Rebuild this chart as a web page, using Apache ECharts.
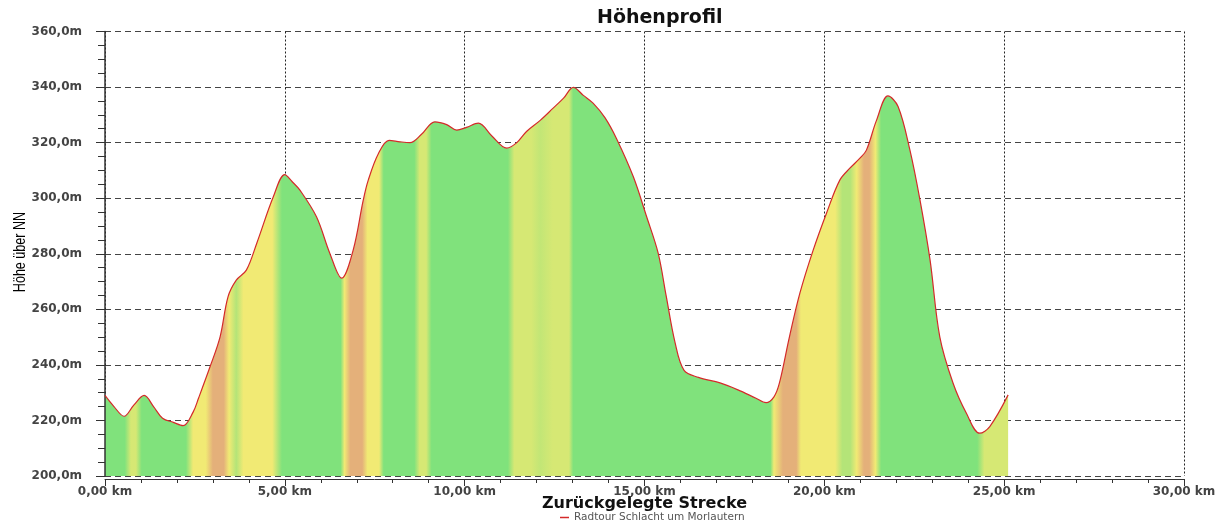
<!DOCTYPE html>
<html>
<head>
<meta charset="utf-8">
<script src="https://cdn.jsdelivr.net/npm/echarts@6/dist/echarts.min.js"></script>
<style>
  html, body { margin: 0; padding: 0; background: #fff; }
  #chart { width: 1220px; height: 522px; }
</style>
</head>
<body>
<div id="chart"></div>
<script>
// Streckenprofil: Distanz (km) und Hoehe (m)
var distKm = [0.00, 0.25, 0.53, 0.80, 1.09, 1.35, 1.60, 1.90, 2.17, 2.45, 2.60, 2.92, 3.20, 3.42, 3.65, 3.93,
    4.22, 4.68, 5.00, 5.20, 5.42, 5.88, 6.25, 6.58, 6.90, 7.18, 7.32, 7.60, 7.90, 8.20, 8.48, 8.80, 9.17,
    9.50, 9.78, 10.05, 10.38, 10.75, 11.17, 11.45, 11.72, 12.10, 12.46, 12.75, 13.02, 13.30, 13.57, 13.90,
    14.22, 14.69, 15.06, 15.38, 15.60, 15.85, 16.10, 16.50, 17.10, 17.60, 18.10, 18.38, 18.60, 18.75, 19.03,
    19.32, 19.69, 20.06, 20.43, 20.71, 20.99, 21.17, 21.45, 21.77, 22.05, 22.38, 22.66, 22.94, 23.21, 23.58,
    23.95, 24.32, 24.60, 25.11];
var hoehe = [229, 225, 221.5, 225.5, 229, 225, 220.8, 219.3, 218.1, 223, 228, 239.3, 250.1, 264.5, 270.5, 274.1,
    283.8, 300.5, 308.5, 306, 302.9, 293.3, 280.2, 271.2, 281.3, 299.3, 306.5, 316, 320.8, 320.3, 320, 323, 327.5,
    326.5, 324.5, 325.5, 327, 322.5, 318, 320, 324, 328, 332.4, 336, 339.9, 337, 334.2, 329,
    321.5, 307.7, 293.3, 280.2, 265, 248, 238, 235.5, 233.5, 231, 228, 226.4, 228.5, 233.4, 250.1,
    265.8, 281.3, 294.6, 306.5, 310.8, 314.4, 317.3, 328, 336.8, 333, 317.3, 299.3, 277.7, 250.1, 233.4,
    222.6, 215.4, 217.8, 229.2];

// Steigungsfarben entlang der Strecke
var bandKm = [0, 0.55, 0.72, 0.86, 1.02,
    2.25, 2.45, 2.8, 3.0, 3.3, 3.45, 3.65, 3.85, 4.65, 4.92,
    6.55, 6.66, 6.82, 7.15, 7.3, 7.62, 7.75,
    8.6, 8.75, 8.93, 9.08,
    11.2, 11.38, 11.85, 12.1, 12.45, 12.9, 13.02,
    18.5, 18.6, 18.85, 19.22, 19.35, 20.3, 20.5, 20.72, 20.9, 21.1, 21.25, 21.42, 21.58,
    24.25, 24.45, 25.11];
var bandColor = ['g', 'g', 'ly', 'ly', 'g',
    'g', 'y', 'y', 'o', 'o', 'y', 'lg', 'y', 'y', 'g',
    'g', 'y', 'o', 'o', 'y', 'y', 'g',
    'g', 'ly', 'ly', 'g',
    'g', 'ly', 'ly', 'yg', 'ly', 'ly', 'g',
    'g', 'y', 'o', 'o', 'y', 'y', 'lg', 'lg', 'y', 'o', 'o', 'y', 'g',
    'g', 'ly', 'ly'];

var xTicks = [0, 5, 10, 15, 20, 25, 30];
var yTicks = [200, 220, 240, 260, 280, 300, 320, 340, 360];

var farben = {
    g: '#80e27c',
    y: '#f1ea74',
    o: '#e4b07a',
    ly: '#d6e874',
    yg: '#c2e676',
    lg: '#b4e478'
};

var punkte = [];
for (var i = 0; i < distKm.length; i++) {
    punkte.push([distKm[i], hoehe[i]]);
}

var ende = distKm[distKm.length - 1];
var stops = [];
for (var j = 0; j < bandKm.length; j++) {
    stops.push({ offset: bandKm[j] / ende, color: farben[bandColor[j]] });
}

var labelStyle = {
    fontFamily: 'DejaVu Sans',
    fontSize: 12,
    fontWeight: 'bold',
    color: '#444'
};

var myChart = echarts.init(document.getElementById('chart'));

var option = {
    animation: false,
    title: {
        text: 'Höhenprofil',
        left: 592,
        top: 4,
        textStyle: {
            fontFamily: 'DejaVu Sans',
            fontSize: 19,
            fontWeight: 'bold',
            color: '#111'
        }
    },
    legend: {
        top: 512,
        left: 560,
        padding: 0,
        icon: 'rect',
        itemWidth: 9,
        itemHeight: 1.5,
        itemGap: 4,
        textStyle: {
            fontFamily: 'DejaVu Sans',
            fontSize: 10.5,
            color: '#555'
        },
        data: ['Radtour Schlacht um Morlautern']
    },
    graphic: [{
        type: 'text',
        x: 20,
        y: 252,
        rotation: Math.PI / 2,
        scaleX: 0.74,
        style: {
            text: 'Höhe über NN',
            fontFamily: 'Liberation Sans',
            fontSize: 17,
            fill: '#000',
            align: 'center',
            verticalAlign: 'middle'
        }
    }],
    grid: {
        left: 105,
        right: 36,
        top: 31.5,
        bottom: 46
    },
    xAxis: {
        type: 'value',
        min: xTicks[0],
        max: xTicks[xTicks.length - 1],
        interval: 5,
        offset: 3,
        z: 3,
        name: 'Zurückgelegte Strecke',
        nameLocation: 'middle',
        nameMoveOverlap: false,
        nameGap: 17,
        nameTextStyle: {
            fontFamily: 'DejaVu Sans',
            fontSize: 16,
            fontWeight: 'bold',
            color: '#111'
        },
        axisLine: { lineStyle: { color: '#333', width: 1 } },
        axisTick: { length: 7, lineStyle: { color: '#333' } },
        minorTick: { show: true, splitNumber: 5, length: 4, lineStyle: { color: '#333' } },
        axisLabel: Object.assign({
            margin: 7,
            formatter: function (v) {
                return v.toFixed(2).replace('.', ',') + ' km';
            }
        }, labelStyle),
        splitLine: {
            show: true,
            lineStyle: { color: '#222', type: [2, 2], width: 1 }
        }
    },
    yAxis: {
        type: 'value',
        min: yTicks[0],
        max: yTicks[yTicks.length - 1],
        interval: 20,
        offset: 7,
        z: 3,
        axisLine: { show: true, lineStyle: { color: '#333', width: 1.5 } },
        axisTick: { show: true, length: 9, lineStyle: { color: '#333' } },
        minorTick: { show: true, splitNumber: 4, length: 7, lineStyle: { color: '#333' } },
        axisLabel: Object.assign({
            margin: 16,
            formatter: function (v) {
                return v.toFixed(1).replace('.', ',') + 'm';
            }
        }, labelStyle),
        splitLine: {
            show: true,
            lineStyle: { color: '#444', type: [6, 4], width: 1 }
        }
    },
    series: [{
        name: 'Radtour Schlacht um Morlautern',
        type: 'line',
        data: punkte,
        smooth: 0.35,
        symbol: 'none',
        color: '#d42a2a',
        lineStyle: { color: '#d42a2a', width: 1.2 },
        areaStyle: {
            origin: 'start',
            opacity: 1,
            color: new echarts.graphic.LinearGradient(0, 0, 1, 0, stops)
        }
    }]
};

myChart.setOption(option);
</script>
</body>
</html>
